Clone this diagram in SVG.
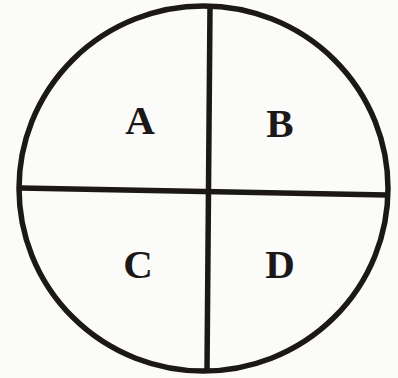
<svg xmlns="http://www.w3.org/2000/svg" width="398" height="378" viewBox="0 0 398 378">
<style>
.ln{stroke:#1c1818;stroke-width:5.5;fill:none;stroke-linecap:round}
.lb{font-family:"Liberation Serif",serif;font-weight:bold;font-size:41px;fill:#1c1818;text-anchor:middle}
</style>
<rect width="398" height="378" fill="#fbfbfa"/>
<g id="circle"><ellipse class="ln" cx="203.5" cy="188.5" rx="184.5" ry="182.5"/></g>
<g id="connectors">
<line class="ln" x1="20" y1="188" x2="387" y2="195"/>
<line class="ln" x1="210" y1="7" x2="207" y2="370"/>
</g>
<g id="A"><text class="lb" x="140" y="134">A</text></g>
<g id="B"><text class="lb" x="280" y="137">B</text></g>
<g id="C"><text class="lb" x="138" y="278">C</text></g>
<g id="D"><text class="lb" x="280" y="278">D</text></g>
</svg>
